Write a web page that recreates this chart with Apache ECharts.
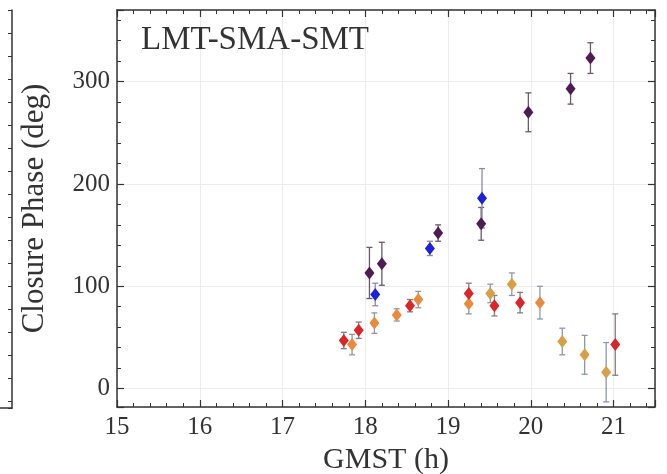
<!DOCTYPE html>
<html>
<head>
<meta charset="utf-8">
<script src="https://cdn.jsdelivr.net/npm/echarts@6/dist/echarts.min.js"></script>
<style>
  html, body { margin: 0; background: #fff; }
  #chart { width: 667px; height: 474px; }
</style>
</head>
<body>
<div id="chart"></div>
<script>
// closure phase per group: GMST (h), phase (deg), 1-sigma error (deg)
const purpleX = [18.05, 18.20, 18.88, 19.40, 19.97, 20.48, 20.72];
const purpleY = [113, 122, 152, 161, 270, 293, 323];
const purpleErr = [25, 21, 8, 16, 19, 15, 15];

const blueX = [18.12, 18.78, 19.41];
const blueY = [92, 137, 186];
const blueErr = [11, 7, 29];

const redX = [17.74, 17.92, 18.54, 19.25, 19.56, 19.87, 21.02];
const redY = [47, 57, 81, 93, 81, 84, 43];
const redErr = [8, 8, 6, 10, 10, 10, 30];

const orangeX = [17.84, 18.11, 18.38, 18.64, 19.25, 20.11];
const orangeY = [43, 64, 72, 87, 83, 84];
const orangeErr = [10, 10, 6, 8, 10, 16];

const tanX = [19.51, 19.77, 20.38, 20.65, 20.91];
const tanY = [93, 102, 46, 33, 16];
const tanErr = [9, 11, 13, 19, 29];

const groups = [
  { x: purpleX, y: purpleY, err: purpleErr, color: '#4e1c52', bar: '#6a5a6a' },
  { x: blueX, y: blueY, err: blueErr, color: '#1c22d6', bar: '#8a8aa8' },
  { x: orangeX, y: orangeY, err: orangeErr, color: '#ea8a3e', bar: '#8f98a8' },
  { x: tanX, y: tanY, err: tanErr, color: '#d8a044', bar: '#8c98aa' },
  { x: redX, y: redY, err: redErr, color: '#d8262a', bar: '#8a7a7e' }
];

const FONT = 'Liberation Serif';
const INK = '#333';

const chart = echarts.init(document.getElementById('chart'));

const errorBar = (params, api) => {
  const x = api.value(0);
  const top = api.coord([x, api.value(2)]);
  const bot = api.coord([x, api.value(1)]);
  const cap = 3;
  const style = { stroke: api.visual('color'), lineWidth: 1.3 };
  return {
    type: 'group',
    children: [
      { type: 'line', shape: { x1: top[0], y1: top[1], x2: bot[0], y2: bot[1] }, style },
      { type: 'line', shape: { x1: top[0] - cap, y1: top[1], x2: top[0] + cap, y2: top[1] }, style },
      { type: 'line', shape: { x1: bot[0] - cap, y1: bot[1], x2: bot[0] + cap, y2: bot[1] }, style }
    ]
  };
};

const series = [];
groups.forEach(g => {
  series.push({
    type: 'custom',
    xAxisIndex: 0,
    yAxisIndex: 0,
    renderItem: errorBar,
    itemStyle: { color: g.bar },
    data: g.x.map((v, i) => [v, g.y[i] - g.err[i], g.y[i] + g.err[i]]),
    z: 2
  });
});
groups.forEach(g => {
  series.push({
    type: 'scatter',
    xAxisIndex: 0,
    yAxisIndex: 0,
    symbol: 'diamond',
    symbolSize: [10, 13],
    itemStyle: { color: g.color, opacity: 1 },
    data: g.x.map((v, i) => [v, g.y[i]]),
    z: 3
  });
});

const boxLine = { show: true, onZero: false, lineStyle: { color: INK, width: 1.5 } };
const majorTick = { show: true, inside: true, length: 7, lineStyle: { color: INK, width: 1.2 } };
const minorTick = { show: true, splitNumber: 5, length: 4, lineStyle: { color: INK, width: 1 } };
const gridLine = { show: true, lineStyle: { color: '#ececec', width: 1 } };

const option = {
  animation: false,
  title: {
    text: 'LMT-SMA-SMT',
    left: 136,
    top: 19,
    textStyle: { fontFamily: FONT, fontSize: 33, fontWeight: 'normal', color: INK }
  },
  grid: [
    { left: 117, right: 12, top: 10, bottom: 67, outerBoundsMode: 'none' },
    { left: 0, width: 12, top: 10, bottom: 66, outerBoundsMode: 'none' }
  ],
  xAxis: [
    {
      type: 'value', gridIndex: 0, position: 'bottom',
      min: 15, max: 21.5, interval: 1,
      axisLine: boxLine, axisTick: majorTick, minorTick: minorTick,
      splitLine: gridLine,
      axisLabel: { fontFamily: FONT, fontSize: 25, color: INK, margin: 8, showMaxLabel: false },
      name: 'GMST (h)', nameLocation: 'middle', nameGap: 36,
      nameTextStyle: { fontFamily: FONT, fontSize: 30, color: INK }
    },
    {
      type: 'value', gridIndex: 0, position: 'top',
      min: 15, max: 21.5, interval: 1,
      axisLine: boxLine, axisTick: majorTick, minorTick: minorTick,
      splitLine: { show: false }, axisLabel: { show: false }
    },
    {
      type: 'value', gridIndex: 1, position: 'bottom', min: 0, max: 1,
      axisLine: boxLine, axisTick: { show: false },
      splitLine: { show: false }, axisLabel: { show: false }
    }
  ],
  yAxis: [
    {
      type: 'value', gridIndex: 0, position: 'left',
      min: -18, max: 370, splitNumber: 4,
      axisLine: boxLine, axisTick: majorTick, minorTick: minorTick,
      splitLine: gridLine,
      axisLabel: { fontFamily: FONT, fontSize: 25, color: INK, margin: 7, showMinLabel: false, showMaxLabel: false },
      name: 'Closure Phase (deg)', nameLocation: 'middle', nameGap: 67,
      nameTextStyle: { fontFamily: FONT, fontSize: 31, color: INK }
    },
    {
      type: 'value', gridIndex: 0, position: 'right',
      min: -18, max: 370, splitNumber: 4,
      axisLine: boxLine, axisTick: majorTick, minorTick: minorTick,
      splitLine: { show: false }, axisLabel: { show: false }
    },
    {
      type: 'value', gridIndex: 1, position: 'right', inverse: true,
      min: 0, max: 17.3, interval: 1,
      axisLine: boxLine,
      axisTick: { show: true, inside: true, length: 4, lineStyle: { color: INK, width: 1 } },
      splitLine: { show: false }, axisLabel: { show: false }
    }
  ],
  series: series
};

chart.setOption(option);
</script>
</body>
</html>
